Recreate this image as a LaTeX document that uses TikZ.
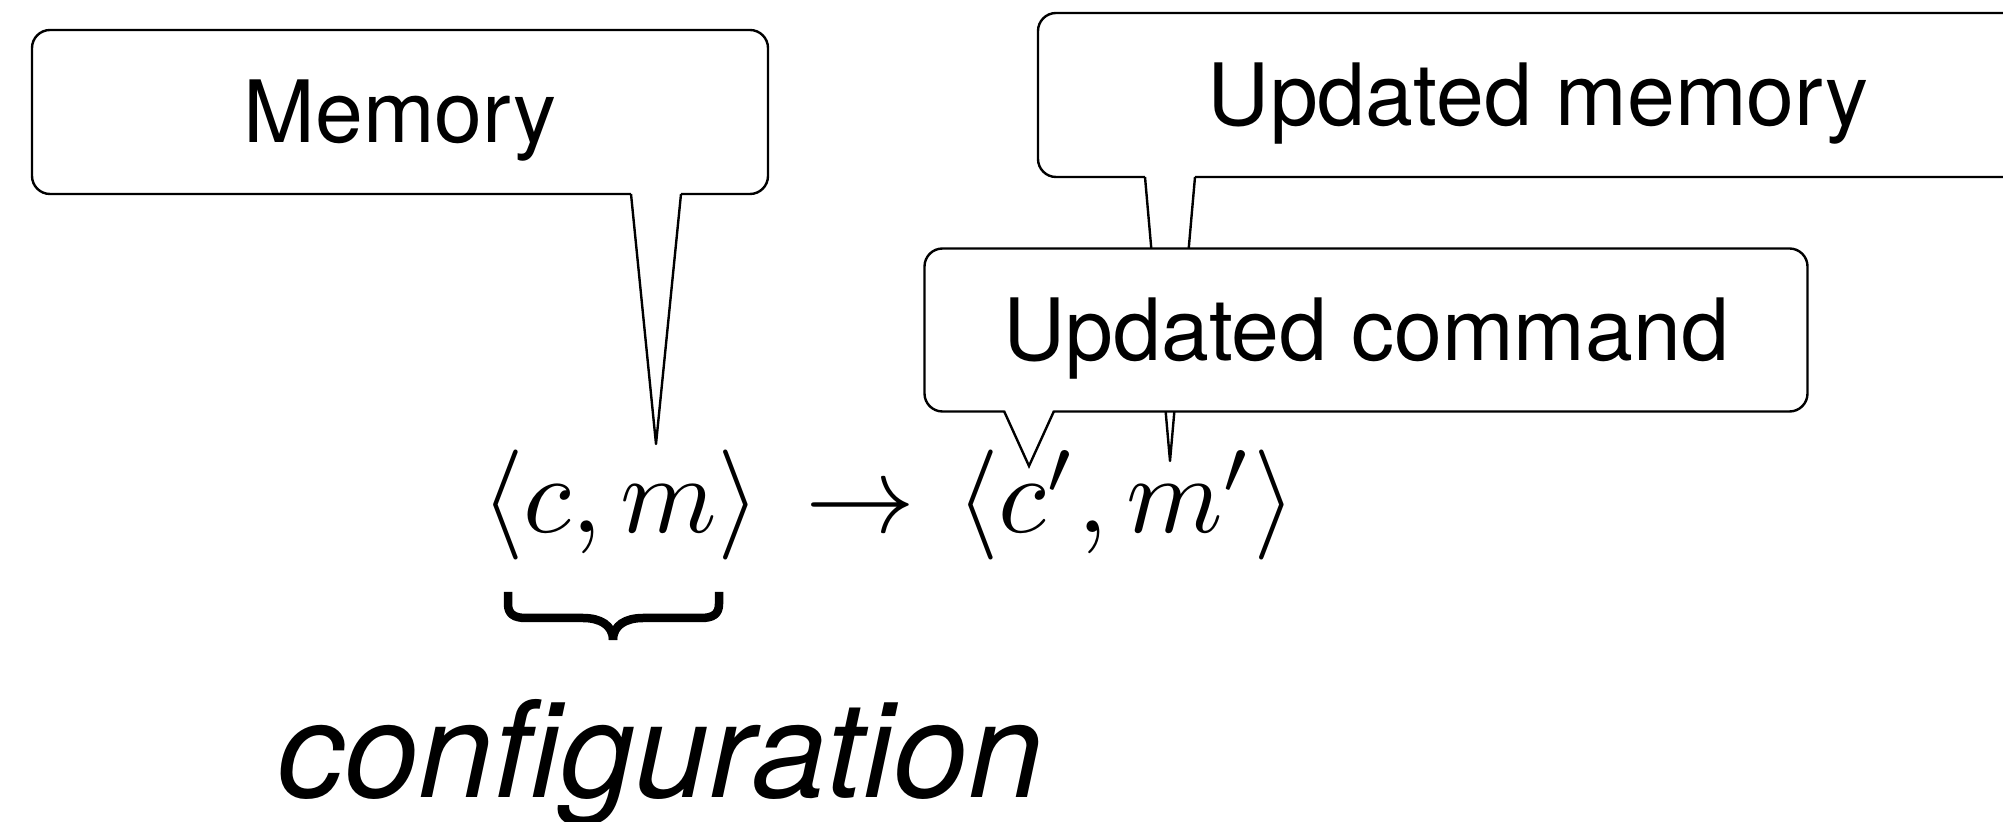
\RequirePackage{fix-cm}
\documentclass[tikz,border=0pt]{standalone}
\usepackage{graphicx}
\usepackage{fontspec}
\newfontfamily\heros{TeX Gyre Heros}
% formulas are set at 10pt and enlarged, keeping the 10pt/7pt design sizes
\newcommand{\bigformula}[1]{\scalebox{11}{\fontsize{10}{12}\selectfont$#1$}}
\begin{document}
\begin{tikzpicture}[x=1pt,y=1pt,
  bubble/.style={draw=black, fill=white, line width=2.4pt, rounded corners=18pt,
    inner sep=0pt, text height=61pt, text depth=0pt,
    font=\heros\fontsize{86}{90}\selectfont},
  tailedge/.style={draw=black, line width=2.4pt, line join=round},
  expr/.style={inner sep=0pt, anchor=base west},
  bracestroke/.style={draw=black, line width=8.5pt, line cap=butt, line join=round},
  caption/.style={inner sep=0pt, anchor=base, font=\heros\itshape\fontsize{134}{140}\selectfont},
]
\useasboundingbox (0,0) rectangle (2003,822);

% Memory callout
\node[bubble, minimum width=736pt, minimum height=164pt] (mem) at (400,710) {Memory};
\coordinate (memL) at (631,628);
\coordinate (memR) at (681,628);
\coordinate (memtip) at (656,378);
\fill[white] ([yshift=2pt]memL) -- (memtip) -- ([yshift=2pt]memR) -- cycle;
\draw[tailedge] (memL) -- (memtip) -- (memR);

% Updated memory callout (runs past the right edge)
\node[bubble, minimum width=1000pt, minimum height=164pt] (updmem) at (1538,727) {Updated memory};
\coordinate (updmemL) at (1145,645);
\coordinate (updmemR) at (1195,645);
\coordinate (updmemtip) at (1170,361);
\fill[white] ([yshift=2pt]updmemL) -- (updmemtip) -- ([yshift=2pt]updmemR) -- cycle;
\draw[tailedge] (updmemL) -- (updmemtip) -- (updmemR);

% Updated command callout, drawn over the memory tail
\node[bubble, minimum width=883pt, minimum height=163pt] (updcmd) at (1366,492) {Updated command};
\coordinate (updcmdL) at (1004,411);
\coordinate (updcmdR) at (1054,411);
\coordinate (updcmdtip) at (1029,356);
\fill[white] ([yshift=2pt]updcmdL) -- (updcmdtip) -- ([yshift=2pt]updcmdR) -- cycle;
\draw[tailedge, line join=miter] (updcmdL) -- (updcmdtip) -- (updcmdR);

% The transition
\node[expr] (lhs) at (481,289) {\bigformula{\langle c,m\rangle}};
\node[expr] (arr) at (805,289) {\bigformula{\to}};
\node[expr] (rhs) at (956,289) {\bigformula{\langle c',m'\rangle}};

% Brace under the configuration
\draw[bracestroke] (508,230) -- (508,218) .. controls (508,208) and (514,204) .. (526,204)
  -- (583,204) .. controls (600,204) and (613,197) .. (613,182);
\draw[bracestroke] (719,230) -- (719,218) .. controls (719,208) and (713,204) .. (701,204)
  -- (643,204) .. controls (626,204) and (613,197) .. (613,182);

\node[caption] (config) at (660,24) {configuration};
\end{tikzpicture}
\end{document}
